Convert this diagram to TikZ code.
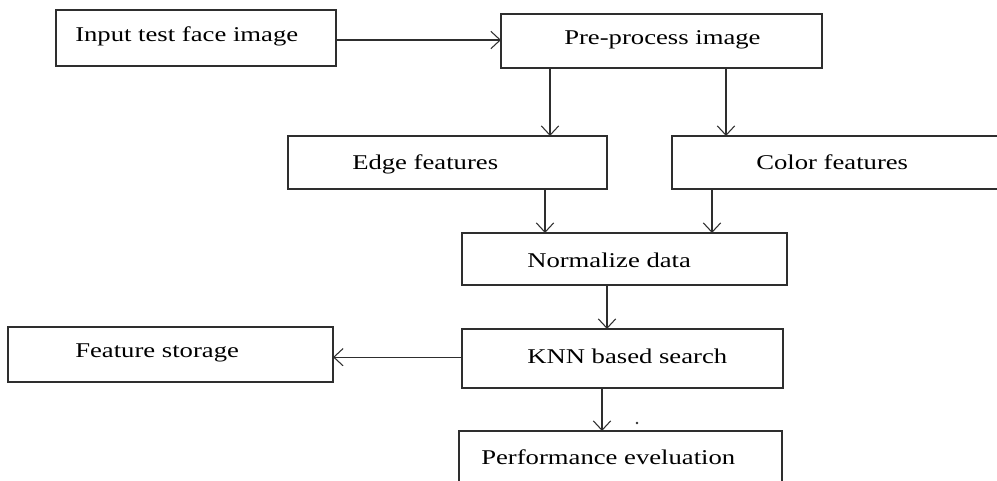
\documentclass[tikz,border=0pt]{standalone}
\usepackage{fontspec}
\usepackage{graphicx}
\setmainfont{Liberation Serif}
\usetikzlibrary{arrows.meta,fit}
\newcommand{\widetxt}[1]{\scalebox{1.27}[1]{#1}}
\definecolor{lncol}{HTML}{2E2E2E}
\tikzset{
  box/.style={draw=lncol, line width=1.3pt, inner sep=0pt, outer sep=0pt, rectangle},
  lbl/.style={anchor=west, inner sep=0pt, font=\fontsize{15.75pt}{18pt}\selectfont, text=black},
  arr/.style={draw=lncol, line width=0.9pt, -{Straight Barb[length=7pt,width=13pt,line width=0.8pt]}}
}
\begin{document}
\begin{tikzpicture}[x=0.75pt,y=-0.75pt]
\useasboundingbox (0,0) rectangle (997,480);
\clip (0,0) rectangle (997,480);
% boxes
\node[box, fit={(56,10) (336,66)}] (in) {};
\node[box, fit={(501,14) (822,68)}] (pre) {};
\node[box, fit={(288,136) (607,189)}] (edge) {};
\node[box, fit={(672,136) (1012,189)}] (color) {};
\node[box, fit={(462,233) (787,285)}] (norm) {};
\node[box, fit={(462,329) (783,388)}] (knn) {};
\node[box, fit={(8,327) (333,382)}] (fs) {};
\node[box, fit={(459,431) (782,486)}] (perf) {};
% labels
\node[lbl] (inT) at (75,36) {\widetxt{Input test face image}};
\node[lbl] (preT) at (564,40) {\widetxt{Pre-process image}};
\node[lbl] (edgeT) at (352,164) {\widetxt{Edge features}};
\node[lbl] (colorT) at (756,162) {\widetxt{Color features}};
\node[lbl] (normT) at (527,260) {\widetxt{Normalize data}};
\node[lbl] (knnT) at (527,356) {\widetxt{KNN based search}};
\node[lbl] (fsT) at (75,353) {\widetxt{Feature storage}};
\node[lbl] (perfT) at (481,457) {\widetxt{Performance eveluation}};
% connectors
\draw[arr] ([yshift=-1.5pt]in.east) coordinate (a0) -- (a0 -| pre.west);
\draw[arr] ([xshift=36.75pt]pre.south west) coordinate (a1) -- (a1 |- edge.north);
\draw[arr] ([xshift=168.75pt]pre.south west) coordinate (a2) -- (a2 |- color.north);
\draw[arr] ([xshift=192.75pt]edge.south west) coordinate (a3) -- (a3 |- norm.north);
\draw[arr] ([xshift=30pt]color.south west) coordinate (a4) -- (a4 |- norm.north);
\draw[arr] ([xshift=108.75pt]norm.south west) coordinate (a5) -- (a5 |- knn.north);
\draw[arr] ([yshift=1pt]knn.west) coordinate (a6) -- (a6 -| fs.east);
\draw[arr] ([xshift=105pt]knn.south west) coordinate (a7) -- (a7 |- perf.north);
% stray dot
\fill[lncol] (637,423) circle (1.3);
\end{tikzpicture}
\end{document}
